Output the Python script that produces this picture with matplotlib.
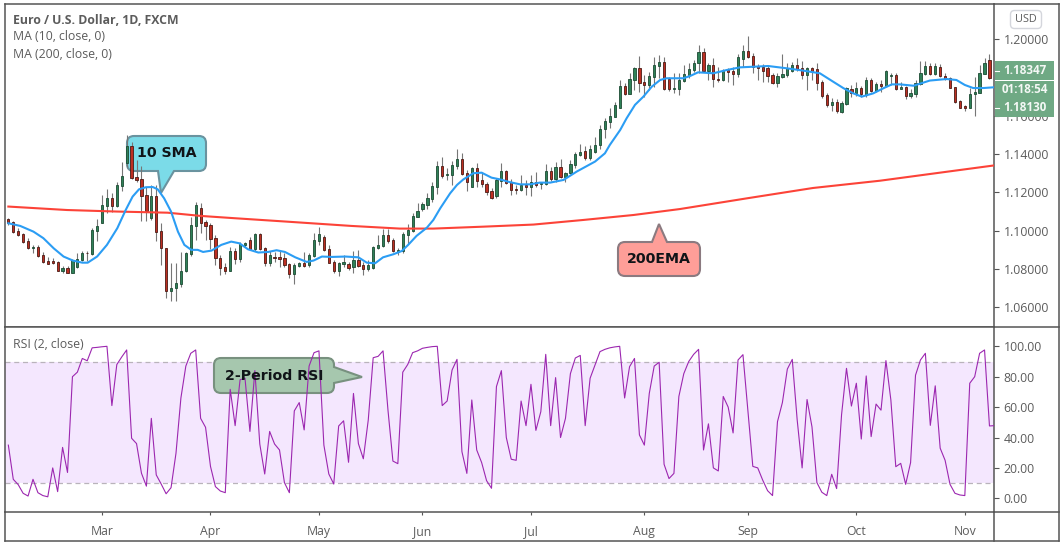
import matplotlib.pyplot as plt
import matplotlib.patches as patches
from matplotlib.path import Path
import pandas as pd


# open, high, low, close, one row per day
CANDLES = [
    (1.1060, 1.1066, 1.1031, 1.1041), (1.1043, 1.1052, 1.0989, 1.0994), (1.0996, 1.1012, 1.0972, 1.0979),
    (1.0982, 1.0989, 1.0937, 1.0942), (1.0944, 1.0960, 1.0902, 1.0911), (1.0911, 1.0925, 1.0885, 1.0914),
    (1.0913, 1.0925, 1.0864, 1.0867), (1.0871, 1.0890, 1.0832, 1.0838), (1.0839, 1.0860, 1.0825, 1.0827),
    (1.0839, 1.0855, 1.0825, 1.0832), (1.0834, 1.0843, 1.0786, 1.0789), (1.0791, 1.0815, 1.0780, 1.0803),
    (1.0803, 1.0815, 1.0777, 1.0780), (1.0780, 1.0850, 1.0777, 1.0845), (1.0812, 1.0881, 1.0806, 1.0850),
    (1.0848, 1.0895, 1.0843, 1.0881), (1.0881, 1.0895, 1.0843, 1.0880), (1.0878, 1.1012, 1.0873, 1.1003),
    (1.0999, 1.1059, 1.0946, 1.1022), (1.1041, 1.1186, 1.1038, 1.1132), (1.1130, 1.1215, 1.1093, 1.1168),
    (1.1168, 1.1198, 1.1099, 1.1130), (1.1130, 1.1255, 1.1121, 1.1238), (1.1234, 1.1360, 1.1208, 1.1285),
    (1.1354, 1.1499, 1.1334, 1.1441), (1.1441, 1.1464, 1.1267, 1.1276), (1.1280, 1.1368, 1.1255, 1.1266),
    (1.1269, 1.1337, 1.1052, 1.1182), (1.1184, 1.1229, 1.1052, 1.1104), (1.1064, 1.1238, 1.1055, 1.1180),
    (1.1180, 1.1238, 1.0947, 1.0994), (1.0996, 1.1041, 1.0820, 1.0907), (1.0907, 1.0907, 1.0650, 1.0686),
    (1.0686, 1.0829, 1.0634, 1.0699), (1.0702, 1.0829, 1.0634, 1.0725), (1.0721, 1.0890, 1.0707, 1.0789),
    (1.0786, 1.0890, 1.0782, 1.0881), (1.0878, 1.1069, 1.0867, 1.1027), (1.1026, 1.1151, 1.0951, 1.1132),
    (1.1116, 1.1146, 1.0986, 1.1041), (1.1045, 1.1055, 1.0951, 1.1024), (1.1029, 1.1038, 1.0902, 1.0958),
    (1.0960, 1.0977, 1.0820, 1.0855), (1.0857, 1.0873, 1.0768, 1.0806), (1.0810, 1.0832, 1.0773, 1.0791),
    (1.0791, 1.0913, 1.0786, 1.0893), (1.0893, 1.0907, 1.0825, 1.0852), (1.0852, 1.0942, 1.0838, 1.0928),
    (1.0926, 1.0942, 1.0916, 1.0935), (1.0949, 1.0965, 1.0899, 1.0906), (1.0904, 1.0986, 1.0895, 1.0982),
    (1.0982, 1.0989, 1.0899, 1.0904), (1.0907, 1.0916, 1.0815, 1.0832), (1.0832, 1.0895, 1.0815, 1.0873),
    (1.0862, 1.0890, 1.0838, 1.0859), (1.0862, 1.0895, 1.0812, 1.0853), (1.0857, 1.0885, 1.0812, 1.0822),
    (1.0824, 1.0832, 1.0751, 1.0775), (1.0775, 1.0829, 1.0721, 1.0820), (1.0817, 1.0838, 1.0808, 1.0829),
    (1.0829, 1.0888, 1.0808, 1.0817), (1.0819, 1.0881, 1.0812, 1.0871), (1.0869, 1.0986, 1.0864, 1.0951),
    (1.0947, 1.1017, 1.0925, 1.0980), (1.0965, 1.0977, 1.0895, 1.0899), (1.0902, 1.0925, 1.0829, 1.0832),
    (1.0834, 1.0846, 1.0777, 1.0789), (1.0789, 1.0838, 1.0765, 1.0831), (1.0827, 1.0873, 1.0812, 1.0836),
    (1.0824, 1.0838, 1.0794, 1.0806), (1.0808, 1.0895, 1.0780, 1.0845), (1.0845, 1.0899, 1.0808, 1.0817),
    (1.0820, 1.0834, 1.0770, 1.0801), (1.0801, 1.0846, 1.0786, 1.0820), (1.0806, 1.0920, 1.0799, 1.0913),
    (1.0911, 1.0977, 1.0902, 1.0923), (1.0921, 1.1006, 1.0916, 1.0975), (1.0975, 1.1006, 1.0933, 1.0947),
    (1.0949, 1.0960, 1.0890, 1.0895), (1.0888, 1.0907, 1.0871, 1.0897), (1.0892, 1.0994, 1.0885, 1.0982),
    (1.0979, 1.1034, 1.0930, 1.1003), (1.0999, 1.1093, 1.0994, 1.1074), (1.1071, 1.1146, 1.1069, 1.1102),
    (1.1114, 1.1151, 1.1102, 1.1139), (1.1135, 1.1194, 1.1114, 1.1170), (1.1167, 1.1255, 1.1151, 1.1233),
    (1.1229, 1.1365, 1.1191, 1.1337), (1.1337, 1.1382, 1.1273, 1.1287), (1.1292, 1.1325, 1.1264, 1.1295),
    (1.1292, 1.1363, 1.1238, 1.1342), (1.1339, 1.1426, 1.1320, 1.1374), (1.1374, 1.1403, 1.1290, 1.1297),
    (1.1299, 1.1316, 1.1208, 1.1255), (1.1229, 1.1330, 1.1226, 1.1327), (1.1325, 1.1351, 1.1226, 1.1261),
    (1.1264, 1.1302, 1.1226, 1.1241), (1.1243, 1.1255, 1.1186, 1.1203), (1.1207, 1.1221, 1.1165, 1.1172),
    (1.1182, 1.1273, 1.1168, 1.1264), (1.1261, 1.1354, 1.1229, 1.1309), (1.1309, 1.1316, 1.1243, 1.1250),
    (1.1254, 1.1267, 1.1186, 1.1214), (1.1217, 1.1238, 1.1191, 1.1214), (1.1214, 1.1290, 1.1208, 1.1240),
    (1.1240, 1.1264, 1.1186, 1.1229), (1.1229, 1.1290, 1.1182, 1.1252), (1.1254, 1.1308, 1.1226, 1.1240),
    (1.1243, 1.1255, 1.1219, 1.1247), (1.1241, 1.1347, 1.1238, 1.1309), (1.1309, 1.1334, 1.1261, 1.1271),
    (1.1269, 1.1360, 1.1255, 1.1330), (1.1330, 1.1372, 1.1273, 1.1281), (1.1281, 1.1308, 1.1255, 1.1301),
    (1.1299, 1.1368, 1.1295, 1.1346), (1.1342, 1.1412, 1.1325, 1.1398), (1.1396, 1.1452, 1.1391, 1.1412),
    (1.1414, 1.1443, 1.1368, 1.1381), (1.1379, 1.1447, 1.1368, 1.1424), (1.1412, 1.1487, 1.1403, 1.1445),
    (1.1445, 1.1551, 1.1426, 1.1532), (1.1529, 1.1586, 1.1482, 1.1572), (1.1569, 1.1638, 1.1534, 1.1598),
    (1.1595, 1.1673, 1.1591, 1.1656), (1.1642, 1.1786, 1.1638, 1.1755), (1.1755, 1.1772, 1.1708, 1.1713),
    (1.1713, 1.1821, 1.1711, 1.1789), (1.1786, 1.1852, 1.1734, 1.1849), (1.1849, 1.1911, 1.1725, 1.1772),
    (1.1776, 1.1812, 1.1699, 1.1762), (1.1762, 1.1830, 1.1734, 1.1807), (1.1803, 1.1908, 1.1748, 1.1863),
    (1.1861, 1.1916, 1.1795, 1.1880), (1.1878, 1.1904, 1.1734, 1.1737), (1.1793, 1.1800, 1.1730, 1.1737),
    (1.1737, 1.1821, 1.1716, 1.1743), (1.1739, 1.1821, 1.1708, 1.1786), (1.1783, 1.1864, 1.1777, 1.1817),
    (1.1814, 1.1876, 1.1795, 1.1843), (1.1838, 1.1890, 1.1830, 1.1876), (1.1873, 1.1969, 1.1824, 1.1932),
    (1.1932, 1.1951, 1.1830, 1.1833), (1.1833, 1.1876, 1.1786, 1.1863), (1.1864, 1.1899, 1.1751, 1.1793),
    (1.1791, 1.1856, 1.1777, 1.1786), (1.1786, 1.1845, 1.1783, 1.1835), (1.1838, 1.1847, 1.1777, 1.1830),
    (1.1833, 1.1852, 1.1760, 1.1819), (1.1819, 1.1922, 1.1800, 1.1904), (1.1896, 1.1969, 1.1856, 1.1936),
    (1.1936, 1.2016, 1.1899, 1.1906), (1.1911, 1.1929, 1.1821, 1.1856), (1.1859, 1.1868, 1.1786, 1.1850),
    (1.1852, 1.1870, 1.1777, 1.1835), (1.1847, 1.1864, 1.1777, 1.1809), (1.1812, 1.1821, 1.1765, 1.1772),
    (1.1772, 1.1821, 1.1751, 1.1805), (1.1803, 1.1922, 1.1795, 1.1816), (1.1812, 1.1873, 1.1803, 1.1847),
    (1.1835, 1.1882, 1.1830, 1.1864), (1.1864, 1.1899, 1.1835, 1.1845), (1.1847, 1.1887, 1.1789, 1.1814),
    (1.1814, 1.1856, 1.1734, 1.1849), (1.1849, 1.1856, 1.1786, 1.1835), (1.1843, 1.1873, 1.1734, 1.1772),
    (1.1776, 1.1786, 1.1690, 1.1704), (1.1706, 1.1716, 1.1647, 1.1656), (1.1657, 1.1690, 1.1626, 1.1671),
    (1.1671, 1.1685, 1.1612, 1.1624), (1.1619, 1.1678, 1.1612, 1.1668), (1.1661, 1.1751, 1.1656, 1.1743),
    (1.1741, 1.1760, 1.1699, 1.1720), (1.1716, 1.1777, 1.1702, 1.1743), (1.1743, 1.1755, 1.1699, 1.1713),
    (1.1708, 1.1803, 1.1699, 1.1786), (1.1784, 1.1795, 1.1725, 1.1729), (1.1729, 1.1777, 1.1725, 1.1763),
    (1.1765, 1.1786, 1.1725, 1.1756), (1.1756, 1.1838, 1.1751, 1.1831), (1.1809, 1.1824, 1.1760, 1.1812),
    (1.1812, 1.1821, 1.1734, 1.1739), (1.1741, 1.1777, 1.1737, 1.1748), (1.1748, 1.1755, 1.1685, 1.1704),
    (1.1704, 1.1737, 1.1694, 1.1716), (1.1713, 1.1786, 1.1699, 1.1769), (1.1765, 1.1887, 1.1760, 1.1824),
    (1.1819, 1.1887, 1.1812, 1.1859), (1.1859, 1.1873, 1.1812, 1.1817), (1.1817, 1.1873, 1.1812, 1.1861),
    (1.1854, 1.1870, 1.1803, 1.1807), (1.1809, 1.1824, 1.1786, 1.1791), (1.1795, 1.1800, 1.1743, 1.1746),
    (1.1748, 1.1751, 1.1668, 1.1673), (1.1675, 1.1682, 1.1638, 1.1642), (1.1649, 1.1656, 1.1626, 1.1642),
    (1.1640, 1.1743, 1.1638, 1.1713), (1.1711, 1.1803, 1.1600, 1.1723), (1.1720, 1.1864, 1.1716, 1.1821),
    (1.1819, 1.1899, 1.1816, 1.1875), (1.1889, 1.1922, 1.1789, 1.1795),
]

# (day index, value) along the moving averages
SMA_10 = [
    (0, 1.1038), (2.4, 1.1024), (5.1, 1.0994), (7.1, 1.0960), (9.2, 1.0907), (11.2, 1.0864), (13.1, 1.0843),
    (15, 1.0832), (16.1, 1.0832), (18, 1.0864), (20, 1.0925), (22.1, 1.1012), (23.8, 1.1107), (25.2, 1.1177),
    (26.5, 1.1215), (27.9, 1.1226), (29.3, 1.1227), (30.3, 1.1215), (31.6, 1.1168), (33, 1.1099), (34.4, 1.0994),
    (35.7, 1.0925), (37.1, 1.0899), (38.4, 1.0899), (39.5, 1.0888), (41.2, 1.0895), (43.2, 1.0925), (45.2, 1.0942),
    (46.9, 1.0933), (48.6, 1.0902), (50.7, 1.0885), (52.7, 1.0888), (54.4, 1.0897), (56.1, 1.0888), (58.2, 1.0860),
    (60.5, 1.0836), (61.9, 1.0843), (63.6, 1.0864), (65.6, 1.0862), (68.4, 1.0864), (71, 1.0860), (72.7, 1.0832),
    (74.4, 1.0829), (76, 1.0860), (78.1, 1.0876), (79.8, 1.0893), (81.1, 1.0925), (82.8, 1.0972), (84.9, 1.1015),
    (86.2, 1.1055), (87.6, 1.1116), (89.6, 1.1194), (91, 1.1238), (92.3, 1.1267), (94.3, 1.1299), (96, 1.1302),
    (98, 1.1276), (99.7, 1.1267), (101.8, 1.1252), (103.8, 1.1241), (105.8, 1.1241), (107.8, 1.1250), (109.9, 1.1250),
    (112.6, 1.1264), (115.3, 1.1308), (119, 1.1360), (121, 1.1403), (122, 1.1447), (124.1, 1.1525), (125.4, 1.1586),
    (127.1, 1.1656), (128.8, 1.1699), (130.5, 1.1751), (132.2, 1.1786), (133.5, 1.1795), (136.9, 1.1795), (138.3, 1.1807),
    (139.9, 1.1826), (143, 1.1821), (145.7, 1.1838), (148.4, 1.1852), (151.8, 1.1856), (154.1, 1.1859), (157.9, 1.1847),
    (161.2, 1.1835), (164.6, 1.1821), (167.3, 1.1777), (169.4, 1.1743), (171.4, 1.1716), (173.1, 1.1699), (175.4, 1.1716),
    (177.5, 1.1743), (179.2, 1.1763), (180.9, 1.1763), (183.6, 1.1756), (185.2, 1.1769), (186.9, 1.1783), (190.3, 1.1791),
    (192.3, 1.1786), (194, 1.1760), (195.7, 1.1744), (197.8, 1.1744), (200, 1.1748),
]
EMA_200 = [
    (0, 1.1125), (11.9, 1.1107), (22, 1.1099), (32.3, 1.1093), (39.1, 1.1076), (46, 1.1064), (56.1, 1.1047),
    (69.5, 1.1024), (79.4, 1.1010), (86.2, 1.1010), (96.3, 1.1020), (106.5, 1.1031), (116.6, 1.1055), (126.8, 1.1081),
    (136.2, 1.1112), (149.8, 1.1168), (163.2, 1.1222), (176.8, 1.1260), (190.4, 1.1307), (200, 1.1340),
]

RSI = [
    35, 12.5, 9, 3.3, 1.5, 12.5, 3.7, 1.8, 1, 20, 4.4, 33.5, 17, 80, 83, 92, 90.5, 99, 99.3, 99.7,
    100, 61, 88, 93, 97.6, 39.5, 36, 16.5, 8, 52.6, 15.4, 9.4, 3, 7, 29.6, 66, 87, 95.4, 97.6, 52.6,
    46.7, 21, 7.7, 4.8, 3.7, 71.7, 47.8, 78, 79, 44, 84, 35.7, 16, 44, 35.7, 31.8, 10.3, 3.7, 57.5, 63,
    45, 87, 95.8, 97, 35, 16, 9.4, 47.6, 51, 23.7, 69, 36, 26, 51.5, 92.5, 93.4, 97, 58, 24.5, 22.8,
    83, 88, 95.8, 97, 98.7, 99.3, 99.8, 100, 61, 64, 84.4, 91.4, 30.7, 16.4, 64.7, 31.8, 23.5, 11.6, 6.6, 73.5,
    84, 40, 25.7, 25, 64, 47.8, 75, 44.7, 57, 94.7, 47.8, 79.4, 40, 52.6, 82, 92.3, 94, 47.8, 79, 87.7,
    96.5, 98, 99, 99.6, 100, 66, 86.6, 92, 41.7, 35, 69, 87, 89.5, 22.4, 13, 16.4, 67, 82, 90, 94.7,
    98, 31.8, 49, 20, 18, 67, 60, 43, 91, 94.5, 58, 21, 20, 12, 5, 1.8, 50.4, 63, 85, 91.4,
    51.5, 20, 65, 47, 10.3, 4, 1.8, 15.8, 6.4, 55, 85.5, 60.7, 75.7, 39, 80.5, 40.6, 62, 58, 90.6, 64.7,
    20.8, 23, 9.2, 23.5, 81, 91, 95.4, 48, 74, 33, 25, 9.2, 3.3, 2.2, 1.8, 75.7, 80, 95.4, 97.6, 47.6,
    47.8,
]

MONTHS = {"Mar": 19, "Apr": 41, "May": 63, "Jun": 84, "Jul": 106, "Aug": 129, "Sep": 150, "Oct": 172, "Nov": 194}

WIDTH, HEIGHT = 1062, 547
FRAME = "#555555"
TEXT = "#5c5c5c"
FONT = "Open Sans"


def px(x, y):
    return x / WIDTH, 1 - y / HEIGHT


def plot_candles(ax, candles):
    up = candles["close"] >= candles["open"]
    colors = ["#2f8158" if item else "#bd2f22" for item in up]
    edges = ["#1c4a33" if item else "#4a1a14" for item in up]
    ax.vlines(candles.index, candles["low"], candles["high"], color="#767676", linewidth=0.8, zorder=3)
    ax.bar(candles.index, candles["close"] - candles["open"], bottom=candles["open"], width=0.45,
           color=colors, edgecolor=edges, linewidth=0.6, zorder=4)


def callout_path(box, tail, side, radius=7):
    x0, y0, x1, y1 = box
    extra = {"top": [], "right": [], "bottom": [], "left": []}
    extra[side] = tail
    verts = [(x0 + radius, y0)]
    codes = [Path.MOVETO]

    def run_edge(points, end, corner, after):
        for point in points:
            verts.append(point)
            codes.append(Path.LINETO)
        verts.extend([end, corner, after])
        codes.extend([Path.LINETO, Path.CURVE3, Path.CURVE3])

    run_edge(extra["top"], (x1 - radius, y0), (x1, y0), (x1, y0 + radius))
    run_edge(extra["right"], (x1, y1 - radius), (x1, y1), (x1 - radius, y1))
    run_edge(extra["bottom"], (x0 + radius, y1), (x0, y1), (x0, y1 - radius))
    run_edge(extra["left"], (x0, y0 + radius), (x0, y0), (x0 + radius, y0))
    verts.append((x0 + radius, y0))
    codes.append(Path.CLOSEPOLY)
    return Path([px(*item) for item in verts], codes)


def add_callout(fig, ax, box, tail, side, color, edge, label, zorder=2.5):
    patch = patches.PathPatch(callout_path(box, tail, side), facecolor=color, edgecolor=edge, linewidth=1.5,
                              transform=fig.transFigure, clip_on=False, zorder=zorder)
    ax.add_patch(patch)
    center = px((box[0] + box[2]) / 2, (box[1] + box[3]) / 2)
    fig.text(*center, label, ha="center", va="center", fontsize=10.2, fontweight="bold",
             family="DejaVu Sans", color="#101418", zorder=8)


def add_price_labels(fig):
    green = "#6fa984"
    for top, bottom in ((61, 79.5), (81, 117)):
        x, y = px(994.5, bottom)
        fig.add_artist(patches.Rectangle((x, y), 59.5 / WIDTH, (bottom - top) / HEIGHT, transform=fig.transFigure,
                                         facecolor=green, edgecolor="none", zorder=6))
    for y, label in ((71, "1.18347"), (90, "01:18:54"), (107.5, "1.18130")):
        fig.text(*px(1024.5, y), label, ha="center", va="center", fontsize=8.4, fontweight="bold",
                 family=FONT, color="#f4f8f5", zorder=7)
    for y in (71, 107.5):
        xa, ya = px(995, y)
        xb, yb = px(999, y)
        fig.add_artist(plt.Line2D([xa, xb], [ya, yb], color="white", linewidth=0.8, zorder=7, transform=fig.transFigure))
    fig.add_artist(patches.FancyBboxPatch((1010.5, HEIGHT - 28.5), 31, 18, boxstyle="round,pad=0,rounding_size=4",
                                          facecolor="white", edgecolor="#d4d6dc", linewidth=1, transform=None))
    fig.text(*px(1026, 19), "USD", ha="center", va="center", fontsize=7.8, family=FONT, color=TEXT)


def add_frame(fig):
    kw = {"color": FRAME, "linewidth": 1.1, "transform": fig.transFigure}
    for x0, y0, x1, y1 in ((4.5, 512, 4.5, 541), (4.5, 541, 1059, 541), (1059, 3.5, 1059, 541),
                           (994, 3.5, 1059, 3.5), (994, 327, 1059, 327), (994, 512, 1059, 512),
                           (994.4, 512, 994.4, 541)):
        xa, ya = px(x0, y0)
        xb, yb = px(x1, y1)
        fig.add_artist(plt.Line2D([xa, xb], [ya, yb], **kw))


def main():
    candles = pd.DataFrame(CANDLES, columns=["open", "high", "low", "close"])
    sma = pd.DataFrame(SMA_10, columns=["day", "value"])
    ema = pd.DataFrame(EMA_200, columns=["day", "value"])

    fig, (ax, ax_rsi) = plt.subplots(2, 1, figsize=(WIDTH / 100, HEIGHT / 100), dpi=100, sharex=True,
                                     height_ratios=[323.5, 185.3])
    fig.subplots_adjust(left=4.5 / WIDTH, right=994.4 / WIDTH, top=1 - 3.5 / HEIGHT, bottom=1 - 512.3 / HEIGHT, hspace=0)

    plot_candles(ax, candles)
    ax.plot(ema["day"], ema["value"], color="#fc4338", linewidth=1.5, zorder=5)
    ax.plot(sma["day"], sma["value"], color="#2b9df4", linewidth=1.5, zorder=5)

    ax.set_xlim(-0.78, 200.0)
    ax.set_ylim(1.04961, 1.21854)
    ax.yaxis.tick_right()
    ax.set_yticks([1.06, 1.08, 1.10, 1.12, 1.14, 1.16, 1.20])
    ax.set_yticklabels([f"{value:.5f}" for value in ax.get_yticks()])

    ax_rsi.axhspan(10, 90, color="#f4e7fe", linewidth=0, zorder=1)
    ax_rsi.axhline(90, color="#b9b3bb", linewidth=0.9, linestyle=(0, (4, 3)), zorder=2)
    ax_rsi.axhline(10, color="#b9b3bb", linewidth=0.9, linestyle=(0, (4, 3)), zorder=2)
    ax_rsi.plot(range(len(RSI)), RSI, color="#9c27b0", linewidth=0.8, zorder=3)
    ax_rsi.set_ylim(-9.2, 112.7)
    ax_rsi.yaxis.tick_right()
    ax_rsi.set_yticks([0, 20, 40, 60, 80, 100])
    ax_rsi.set_yticklabels([f"{value:.2f}" for value in ax_rsi.get_yticks()])
    ax_rsi.set_xticks(list(MONTHS.values()))
    ax_rsi.set_xticklabels(list(MONTHS.keys()))

    for axis in (ax, ax_rsi):
        axis.tick_params(axis="y", length=3.5, width=0.8, color=FRAME, labelcolor=TEXT, labelsize=8.8, pad=3)
        axis.tick_params(axis="x", length=2.5, width=0.8, color=FRAME, labelcolor=TEXT, labelsize=8.8, pad=7)
        for spine in axis.spines.values():
            spine.set_color(FRAME)
            spine.set_linewidth(1.1)
        for label in axis.get_xticklabels() + axis.get_yticklabels():
            label.set_family(FONT)
    ax.tick_params(axis="x", length=0, labelbottom=False)

    fig.text(*px(13, 20), "Euro / U.S. Dollar, 1D, FXCM", va="center", fontsize=8.8, fontweight="bold", family=FONT, color=TEXT)
    fig.text(*px(13, 37), "MA (10, close, 0)", va="center", fontsize=8.8, family=FONT, color=TEXT)
    fig.text(*px(13, 54), "MA (200, close, 0)", va="center", fontsize=8.8, family=FONT, color=TEXT)
    fig.text(*px(13, 344.5), "RSI (2, close)", va="center", fontsize=8.8, family=FONT, color=TEXT)

    add_price_labels(fig)
    add_frame(fig)

    add_callout(fig, ax, (127, 136, 206, 171), [(174, 171), (161, 193), (158, 171)], "bottom", "#7bdbe8", "#6a939f", "10 SMA")
    add_callout(fig, ax, (618, 242, 700, 276), [(652, 242), (659, 224), (667, 242)], "top", "#fe9e98", "#8b7a80", "200EMA")
    add_callout(fig, ax_rsi, (214, 358, 334, 393), [(334, 367), (362, 377), (334, 383)], "right", "#a6c7ae", "#78917f", "2-Period RSI")

    fig.savefig("out.png", dpi=100)
    plt.close(fig)


if __name__ == "__main__":
    main()
